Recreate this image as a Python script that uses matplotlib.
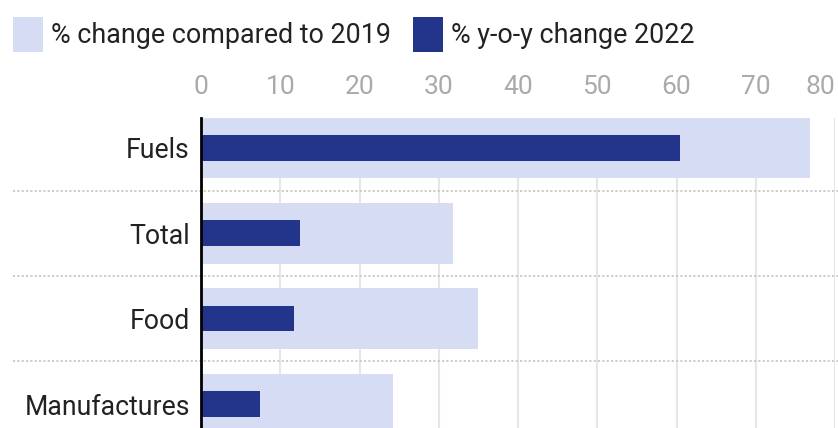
import matplotlib
matplotlib.use("Agg")
import matplotlib.pyplot as plt
from matplotlib.patches import Patch

plt.rcParams['font.family'] = ['Roboto', 'DejaVu Sans']

categories = ["Fuels", "Total", "Food", "Manufactures"]
change_vs_2019 = [76.9, 31.8, 34.9, 24.2]
yoy_2022 = [60.4, 12.5, 11.7, 7.4]
xticks = [0, 10, 20, 30, 40, 50, 60, 70, 80]
legend_labels = ["% change compared to 2019", "% y-o-y change 2022"]

light = "#d7dcf5"
dark = "#22358a"

W, H = 838, 428
fig = plt.figure(figsize=(W / 100, H / 100), dpi=100)
ax = fig.add_axes([201 / W, 0, (835 - 201) / W, (428 - 118) / H])

y = list(range(len(categories)))
ax.barh(y, change_vs_2019, height=0.71, color=light, zorder=2)
ax.barh(y, yoy_2022, height=0.30, color=dark, zorder=3)

ax.set_xlim(0, 80)
ax.set_ylim(3.28, -0.35)
ax.set_xticks(xticks)
ax.set_xticklabels([str(t) for t in xticks])
ax.xaxis.tick_top()
ax.tick_params(axis='x', length=0, pad=14, labelsize=19, colors="#aaaaaa")
ax.set_yticks(y)
ax.set_yticklabels(categories)
ax.tick_params(axis='y', length=0, pad=8, labelsize=19.2, colors="#222222")
labs = ax.get_xticklabels()
labs[-1].set_ha('right')

ax.grid(axis='x', color="#e6e6e6", linewidth=1.5, zorder=0)
ax.set_axisbelow(True)
for s in ["top", "right", "bottom"]:
    ax.spines[s].set_visible(False)
ax.spines["left"].set_color("black")
ax.spines["left"].set_linewidth(2)
ax.spines["left"].set_zorder(5)

# dotted separators between categories
for yy in [0.5, 1.5, 2.5]:
    ax.plot([(13 - 201) / 634, 1.01], [yy, yy], transform=ax.get_yaxis_transform(),
            color="#c8c8c8", linestyle=(0, (1.2, 1.2)), linewidth=1.3, clip_on=False, zorder=1)

handles = [Patch(facecolor=light, edgecolor='none'), Patch(facecolor=dark, edgecolor='none')]
fig.legend(handles, legend_labels, loc='upper left', bbox_to_anchor=(2 / W, 1 - 6 / H),
           ncol=2, frameon=False, fontsize=19.4, handlelength=1.12, handleheight=1.62,
           handletextpad=0.3, columnspacing=0.82, borderpad=0.4, borderaxespad=0,
           labelcolor="#222222")

fig.savefig("out.png", dpi=100)
